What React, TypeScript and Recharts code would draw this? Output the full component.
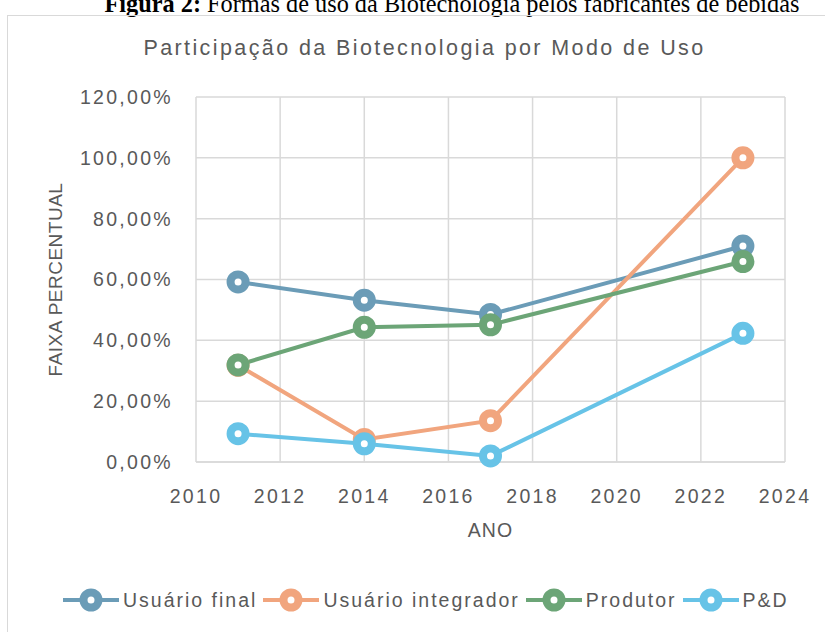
import React from 'react';
import { LineChart, Line, XAxis, YAxis, CartesianGrid } from 'recharts';

const years = [2011, 2014, 2017, 2023];
const usuarioFinal = [59.2, 53.2, 48.5, 71.0];
const usuarioIntegrador = [31.8, 7.4, 13.6, 100.0];
const produtor = [31.9, 44.3, 45.1, 65.9];
const pesquisaDesenv = [9.3, 6.0, 2.0, 42.3];

const xTicks = [2010, 2012, 2014, 2016, 2018, 2020, 2022, 2024];
const yTicks = [0, 20, 40, 60, 80, 100, 120];

const series = [
  { key: 'final', name: 'Usuário final', color: '#6B9CB7', values: usuarioFinal },
  { key: 'integrador', name: 'Usuário integrador', color: '#F1A57E', values: usuarioIntegrador },
  { key: 'produtor', name: 'Produtor', color: '#6CA577', values: produtor },
  { key: 'pd', name: 'P&D', color: '#67C3E7', values: pesquisaDesenv },
];

const data = years.map((year, i) => {
  const row: Record<string, number> = { year };
  series.forEach((s) => {
    row[s.key] = s.values[i];
  });
  return row;
});

const FONT = '"Liberation Sans", Arial, sans-serif';
const TEXT = '#595959';
const GRID = '#D9D9D9';

const fmtPct = (v: number) => `${v.toFixed(2).replace('.', ',')}%`;

const YLabel = ({ viewBox }: any) => {
  const x = viewBox.x - 51;
  const y = viewBox.y + viewBox.height / 2;
  return (
    <text x={x} y={y} transform={`rotate(-90 ${x} ${y})`} textAnchor="middle" dominantBaseline="central"
      fill={TEXT} fontSize={19} fontFamily={FONT} letterSpacing={0.5}>
      FAIXA PERCENTUAL
    </text>
  );
};

const XLabel = ({ viewBox }: any) => (
  <text x={viewBox.x + viewBox.width / 2} y={viewBox.y + 68} textAnchor="middle" dominantBaseline="central"
    fill={TEXT} fontSize={19.5} fontFamily={FONT} letterSpacing={1}>
    ANO
  </text>
);

const ChartLegend = () => (
  <div style={{ position: 'absolute', left: 63, top: 587, display: 'flex', alignItems: 'center', fontFamily: FONT,
    fontSize: 19.5, color: TEXT, letterSpacing: 2, whiteSpace: 'nowrap' }}>
    {series.map((s) => (
      <div key={s.key} style={{ display: 'flex', alignItems: 'center', marginRight: 6 }}>
        <svg width={56} height={26} style={{ marginRight: 4 }}>
          <line x1={0} y1={13} x2={56} y2={13} stroke={s.color} strokeWidth={4} />
          <circle cx={28} cy={13} r={7.5} stroke={s.color} strokeWidth={8} fill="#fff" />
        </svg>
        <span>{s.name}</span>
      </div>
    ))}
  </div>
);

const App: React.FC = () => {
  return (
    <div style={{ position: 'fixed', left: 0, top: 0, width: 825, height: 632, overflow: 'hidden', background: '#fff' }}>
      <div style={{ position: 'absolute', left: 452, top: -8, transform: 'translateX(-50%)', whiteSpace: 'nowrap',
        fontFamily: '"Liberation Serif", "Times New Roman", serif', fontSize: 24.3, lineHeight: '24px', color: '#000' }}>
        <b>Figura 2:</b> Formas de uso da Biotecnologia pelos fabricantes de bebidas
      </div>
      <div style={{ position: 'absolute', left: 7, top: 15, width: 840, height: 660, border: `1px solid ${GRID}`, boxSizing: 'border-box' }} />
      <div style={{ position: 'absolute', left: 0, top: 33, width: 849, textAlign: 'center', fontFamily: FONT,
        fontSize: 21.5, lineHeight: '30px', letterSpacing: 2.4, color: TEXT }}>
        Participação da Biotecnologia por Modo de Uso
      </div>
      <div style={{ position: 'absolute', left: 0, top: 0 }}>
        <LineChart width={825} height={632} data={data} margin={{ top: 97, right: 40, bottom: 120, left: 106 }}>
          <CartesianGrid stroke={GRID} strokeWidth={1.5} />
          <XAxis
            dataKey="year"
            type="number"
            domain={[2010, 2024]}
            ticks={xTicks}
            height={50}
            tickSize={0}
            tickMargin={27}
            axisLine={{ stroke: GRID, strokeWidth: 1.5 }}
            tickLine={false}
            tick={{ fill: TEXT, fontSize: 19.5, fontFamily: FONT, letterSpacing: 2.3 }}
            label={<XLabel />}
          />
          <YAxis
            type="number"
            domain={[0, 120]}
            ticks={yTicks}
            width={90}
            tickSize={0}
            tickMargin={23}
            axisLine={false}
            tickLine={false}
            tickFormatter={fmtPct}
            tick={{ fill: TEXT, fontSize: 19.5, fontFamily: FONT, letterSpacing: 2.3 }}
            label={<YLabel />}
          />
          {series.map((s) => (
            <Line
              key={s.key}
              dataKey={s.key}
              name={s.name}
              stroke={s.color}
              strokeWidth={4}
              dot={{ r: 7.5, stroke: s.color, strokeWidth: 8, fill: '#fff' }}
              activeDot={false}
              isAnimationActive={false}
            />
          ))}
        </LineChart>
      </div>
      <ChartLegend />
    </div>
  );
};

export default App;
